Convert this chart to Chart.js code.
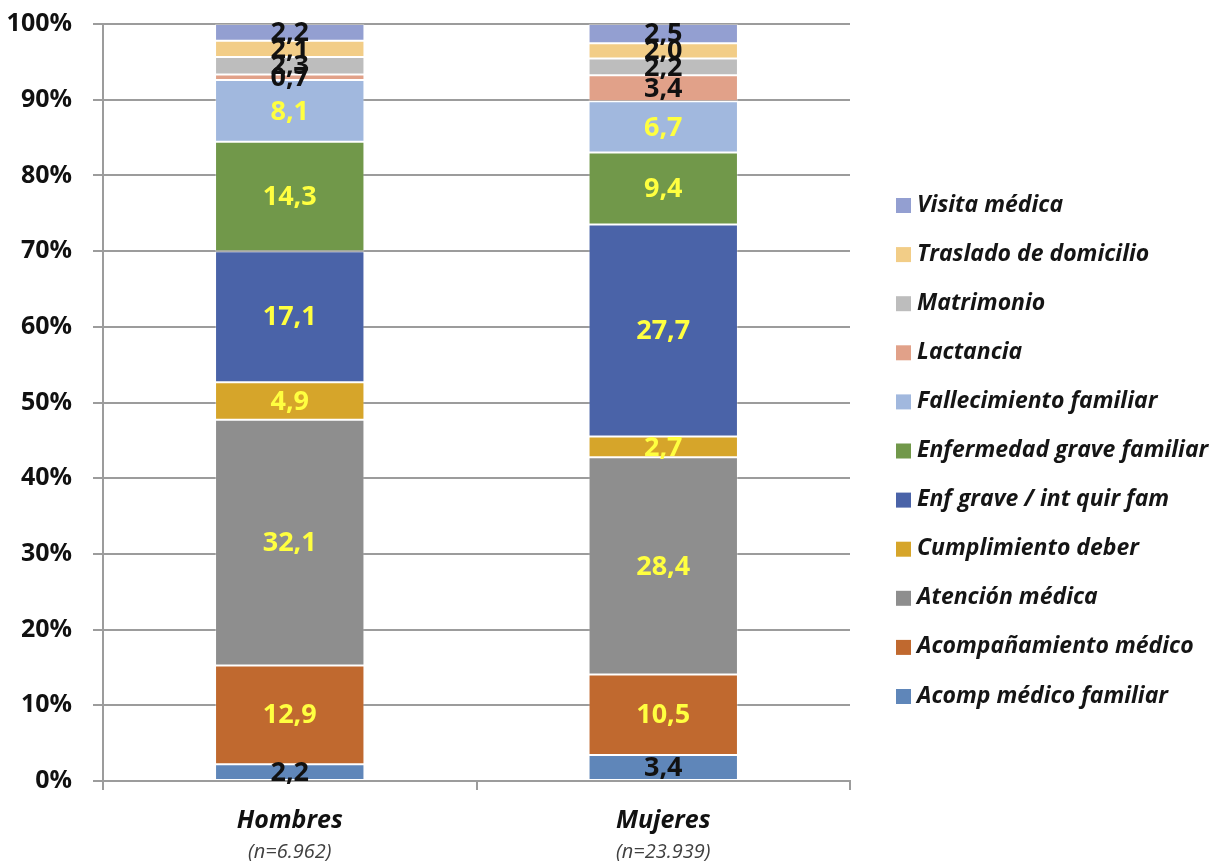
<!DOCTYPE html>
<html>
<head>
<meta charset="utf-8">
<script src="https://cdn.jsdelivr.net/npm/chart.js@4/dist/chart.umd.min.js"></script>
<style>
  html, body { margin: 0; padding: 0; background: #ffffff; }
  #wrap { width: 1231px; height: 861px; }
</style>
</head>
<body>
<div id="wrap"><canvas id="c" width="1231" height="861"></canvas></div>
<script>
// Categories and sample sizes
const categories = ['Hombres', 'Mujeres'];
const sampleSizes = ['(n=6.962)', '(n=23.939)'];

// Leave types, bottom to top of the stack
const seriesNames = [
  'Acomp médico familiar',
  'Acompañamiento médico',
  'Atención médica',
  'Cumplimiento deber',
  'Enf grave / int quir fam',
  'Enfermedad grave familiar',
  'Fallecimiento familiar',
  'Lactancia',
  'Matrimonio',
  'Traslado de domicilio',
  'Visita médica'
];

// Percentage of leaves per type (Hombres, Mujeres)
const acompMedicoFamiliar = [2.2, 3.4];
const acompanamientoMedico = [12.9, 10.5];
const atencionMedica = [32.1, 28.4];
const cumplimientoDeber = [4.9, 2.7];
const enfGraveIntQuirFam = [17.1, 27.7];
const enfermedadGraveFamiliar = [14.3, 9.4];
const fallecimientoFamiliar = [8.1, 6.7];
const lactancia = [0.7, 3.4];
const matrimonio = [2.3, 2.2];
const trasladoDomicilio = [2.1, 2.0];
const visitaMedica = [2.2, 2.5];

// Y axis tick labels
const yTicks = [0, 10, 20, 30, 40, 50, 60, 70, 80, 90, 100];

const seriesValues = [
  acompMedicoFamiliar, acompanamientoMedico, atencionMedica, cumplimientoDeber,
  enfGraveIntQuirFam, enfermedadGraveFamiliar, fallecimientoFamiliar,
  lactancia, matrimonio, trasladoDomicilio, visitaMedica
];

const seriesColors = [
  '#5F86B9', '#C0692F', '#8E8E8E', '#D6A52A', '#4A63A8', '#71984A',
  '#A1B8DE', '#E1A189', '#BDBDBD', '#F2CD87', '#939FD1'
];
// Value label colour per series
const labelColors = [
  '#111111', '#FFFF40', '#FFFF40', '#FFFF40', '#FFFF40', '#FFFF40',
  '#FFFF40', '#111111', '#111111', '#111111', '#111111'
];

// Each column is drawn as a 100% stack
const totals = categories.map((_, c) => seriesValues.reduce((s, arr) => s + arr[c], 0));

const datasets = seriesNames.map((name, i) => ({
  label: name,
  rawValues: seriesValues[i],
  data: seriesValues[i].map((v, c) => v / totals[c] * 100),
  backgroundColor: seriesColors[i],
  borderColor: 'rgba(255,255,255,0.3)',
  borderWidth: 1,
  borderSkipped: false
}));

const FONT = '"Open Sans", Lato, sans-serif';
const AXIS_GRAY = '#9c9c9c';

const fmt = v => v.toFixed(1).replace('.', ',');

// Value labels centred in each segment
const valueLabels = {
  id: 'valueLabels',
  afterDatasetsDraw(chart) {
    const ctx = chart.ctx;
    ctx.save();
    ctx.font = 'bold 27px ' + FONT;
    ctx.textAlign = 'center';
    ctx.textBaseline = 'middle';
    chart.data.datasets.forEach((ds, i) => {
      const meta = chart.getDatasetMeta(i);
      meta.data.forEach((el, c) => {
        const cy = (el.y + el.base) / 2;
        ctx.fillStyle = labelColors[i];
        ctx.fillText(fmt(ds.rawValues[c]), el.x, cy + 1);
      });
    });
    ctx.restore();
  }
};

// Two-line category labels under the x axis
const categoryLabels = {
  id: 'categoryLabels',
  afterDraw(chart) {
    const ctx = chart.ctx;
    const xs = chart.scales.x;
    ctx.save();
    ctx.textAlign = 'center';
    ctx.textBaseline = 'middle';
    categories.forEach((name, c) => {
      const x = xs.getPixelForValue(c);
      ctx.fillStyle = '#111111';
      ctx.font = 'italic bold 25px ' + FONT;
      ctx.fillText(name, x, 821);
      ctx.fillStyle = '#404040';
      ctx.font = 'italic 20px ' + FONT;
      ctx.fillText(sampleSizes[c], x, 852);
    });
    ctx.restore();
  }
};

// Legend on the right, top series first
const sideLegend = {
  id: 'sideLegend',
  afterDraw(chart) {
    const ctx = chart.ctx;
    const items = chart.data.datasets.map((ds, i) => ({ text: ds.label, color: ds.backgroundColor })).reverse();
    const top = 205, step = 49.1;
    ctx.save();
    ctx.textAlign = 'left';
    ctx.textBaseline = 'middle';
    ctx.font = 'italic bold 23px ' + FONT;
    items.forEach((it, k) => {
      const y = top + k * step;
      ctx.fillStyle = it.color;
      ctx.fillRect(896, y - 7, 15, 15);
      ctx.fillStyle = '#151515';
      ctx.fillText(it.text, 917, y);
    });
    ctx.restore();
  }
};

new Chart(document.getElementById('c'), {
  type: 'bar',
  data: { labels: categories, datasets },
  options: {
    responsive: false,
    animation: false,
    layout: { padding: { left: 0, right: 381, top: 24, bottom: 0 } },
    plugins: {
      legend: { display: false },
      tooltip: { enabled: false }
    },
    datasets: { bar: { categoryPercentage: 1, barPercentage: 0.4 } },
    scales: {
      x: {
        stacked: true,
        afterFit(scale) { scale.height = 80; scale.paddingLeft = 0; scale.paddingRight = 0; },
        grid: {
          offset: true,
          drawOnChartArea: false,
          drawTicks: true,
          tickLength: 9,
          color: AXIS_GRAY,
          lineWidth: 2
        },
        border: { display: true, color: AXIS_GRAY, width: 2 },
        ticks: { callback: () => '' }
      },
      y: {
        stacked: true,
        min: 0,
        max: 100,
        afterFit(scale) { scale.width = 103; scale.paddingTop = 0; scale.paddingBottom = 0; },
        afterBuildTicks(scale) { scale.ticks = yTicks.map(v => ({ value: v })); },
        grid: {
          color: AXIS_GRAY,
          lineWidth: 2,
          drawTicks: true,
          tickLength: 10
        },
        border: { display: true, color: AXIS_GRAY, width: 2 },
        ticks: {
          padding: 21,
          color: '#111111',
          font: { family: FONT, size: 25, weight: 'bold' },
          callback: v => v + '%'
        }
      }
    }
  },
  plugins: [valueLabels, categoryLabels, sideLegend]
});
</script>
</body>
</html>
